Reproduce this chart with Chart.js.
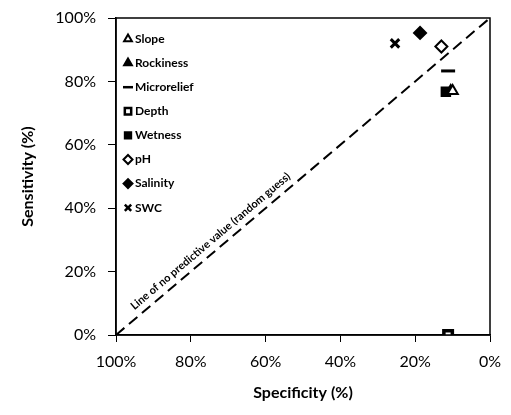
<!DOCTYPE html>
<html>
<head>
<meta charset="utf-8">
<script src="https://cdn.jsdelivr.net/npm/chart.js@4"></script>
<style>
  html, body { margin: 0; padding: 0; background: #fff; }
  #wrap { width: 511px; height: 415px; }
</style>
</head>
<body>
<div id="wrap"><canvas id="myChart" width="511" height="415"></canvas></div>
<script>
/* Data: specificity (%) and sensitivity (%) */
const names = ['Slope', 'Rockiness', 'Microrelief', 'Depth', 'Wetness', 'pH', 'Salinity', 'SWC'];
const specificity = [10, 10.5, 11.2, 11.2, 11.8, 13, 18.7, 25.4];
const sensitivity = [77, 77, 83.3, 0, 76.7, 91, 95.3, 92];
const yTicks = [0, 20, 40, 60, 80, 100];
const xTicks = [100, 80, 60, 40, 20, 0];
const randomGuessX = [100, 0];
const randomGuessY = [0, 100];

/* marker per variable */
const markers = [
    { style: 'triangle', fill: '#fff', radius: 6, bw: 2 },
    { style: 'triangle', fill: '#000', radius: 6, bw: 2 },
    { style: 'line', fill: '#000', radius: 7, bw: 3 },
    { style: 'rect', fill: '#fff', radius: 6, bw: 3.5 },
    { style: 'rect', fill: '#000', radius: 6, bw: 2 },
    { style: 'rectRot', fill: '#fff', radius: 6, bw: 2 },
    { style: 'rectRot', fill: '#000', radius: 6, bw: 2 },
    { style: 'crossRot', fill: '#000', radius: 6, bw: 3 }
];

const FONT = 'Lato, "Open Sans", sans-serif';

let datasets = names.map((n, i) => ({
    label: n,
    data: [{ x: specificity[i], y: sensitivity[i] }],
    pointStyle: markers[i].style,
    pointRadius: markers[i].radius,
    pointBackgroundColor: markers[i].fill,
    pointBorderColor: '#000',
    pointBorderWidth: markers[i].bw,
    showLine: false
}));

datasets.unshift({
    label: 'random',
    type: 'line',
    data: randomGuessX.map((x, i) => ({ x: x, y: randomGuessY[i] })),
    borderColor: '#000',
    borderWidth: 2,
    borderDash: [11, 6],
    pointRadius: 0,
    fill: false
});

/* box round the plot + legend inside + text along the line */
const extras = {
    id: 'extras',
    afterDraw(chart) {
        const c = chart.ctx, a = chart.chartArea;
        const xs = chart.scales.x, ys = chart.scales.y;
        c.save();
        c.strokeStyle = '#000';
        c.lineWidth = 1.5;
        c.strokeRect(a.left, a.top, a.right - a.left, a.bottom - a.top);

        // legend
        c.font = 'bold 12px ' + FONT;
        c.textBaseline = 'middle';
        names.forEach((n, i) => {
            let y = 39 + i * 24.1;
            let m = markers[i];
            c.fillStyle = m.fill;
            c.strokeStyle = '#000';
            c.lineWidth = Math.min(m.bw, 2.5);
            Chart.helpers.drawPoint(c, { pointStyle: m.style, radius: m.style == 'line' ? 5 : 4.5, borderWidth: c.lineWidth }, 128, y);
            c.fillStyle = '#000';
            c.fillText(n, 135, y);
        });

        // label along the random guess line
        let x0 = xs.getPixelForValue(100), y0 = ys.getPixelForValue(0);
        let x1 = xs.getPixelForValue(0), y1 = ys.getPixelForValue(100);
        let ang = Math.atan2(y1 - y0, x1 - x0);
        c.translate(x0, y0);
        c.rotate(ang);
        c.font = 'bold 11px ' + FONT;
        c.textBaseline = 'bottom';
        c.fillText('Line of no predictive value (random guess)', 30, -5);
        c.restore();
    }
};

const ctx = document.getElementById('myChart').getContext('2d');
const myChart = new Chart(ctx, {
    type: 'scatter',
    data: { datasets: datasets },
    options: {
        responsive: false,
        animation: false,
        layout: { padding: { top: 18, right: 21, left: 0, bottom: 0 } },
        plugins: { legend: { display: false }, tooltip: { enabled: false } },
        scales: {
            x: {
                type: 'linear',
                reverse: true,
                min: 0, max: 100,
                afterBuildTicks: (s) => { s.ticks = xTicks.map(v => ({ value: v })); },
                afterFit: (s) => { s.height = 80; s.paddingLeft = 0; s.paddingRight = 0; },
                ticks: { color: '#000', font: { size: 16, family: FONT, lineHeight: 1 }, padding: 12, callback: v => v + '%' },
                grid: { display: true, drawOnChartArea: false, drawTicks: true, tickLength: 7, color: '#000' },
                border: { display: true, color: '#000', width: 1.5 },
                title: { display: true, text: 'Specificity (%)', color: '#000', font: { size: 16, weight: 'bold', family: FONT }, padding: { top: 4, bottom: 13 } }
            },
            y: {
                type: 'linear',
                min: 0, max: 100,
                afterBuildTicks: (s) => { s.ticks = yTicks.map(v => ({ value: v })); },
                afterFit: (s) => { s.width = 116; s.paddingTop = 0; s.paddingBottom = 0; },
                ticks: { color: '#000', font: { size: 16, family: FONT, lineHeight: 1 }, padding: 12, callback: v => v + '%' },
                grid: { display: true, drawOnChartArea: false, drawTicks: true, tickLength: 8, color: '#000' },
                border: { display: true, color: '#000', width: 1.5 },
                title: { display: true, text: 'Sensitivity (%)', color: '#000', font: { size: 16, weight: 'bold', family: FONT }, padding: { top: 18, bottom: 4 } }
            }
        }
    },
    plugins: [extras]
});
</script>
</body>
</html>
